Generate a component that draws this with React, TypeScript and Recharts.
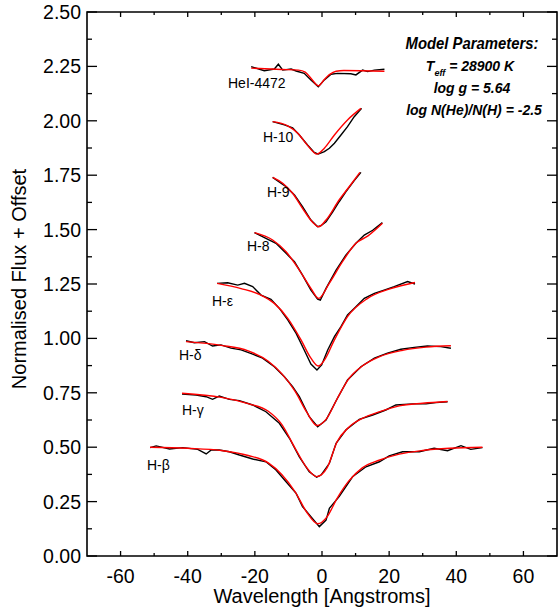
import { LineChart, Line, XAxis, YAxis, ReferenceArea } from 'recharts';

// plot box in page pixels (chart sits at 0,0 of the page)
const PLOT_LEFT = 87;
const PLOT_RIGHT = 557;
const PLOT_TOP = 12;
const PLOT_BOTTOM = 556;
const FONT = 'Liberation Sans, Arial, Helvetica, sans-serif';

const X_TICKS = [-60, -50, -40, -30, -20, -10, 0, 10, 20, 30, 40, 50, 60];
const Y_TICKS = [0, 0.125, 0.25, 0.375, 0.5, 0.625, 0.75, 0.875, 1, 1.125, 1.25, 1.375, 1.5, 1.625, 1.75, 1.875, 2, 2.125, 2.25, 2.375, 2.5];

// HeI 4472
const heiObsX = [-21.1, -17.2, -14.2, -13.0, -11.7, -9.2, -7.7, -5.3, -3.3, -1.1, 0.7, 2.7, 4.6, 8.6, 10.1, 12.1, 13.6, 15.6, 18.6];
const heiObsY = [2.249, 2.23, 2.238, 2.26, 2.233, 2.238, 2.229, 2.218, 2.188, 2.157, 2.188, 2.214, 2.218, 2.216, 2.211, 2.233, 2.226, 2.233, 2.237];
const heiModX = [-21.1, -12, -7, -5, -3.3, -1.1, 0.7, 2.2, 4.2, 6.5, 18.6];
const heiModY = [2.242, 2.236, 2.233, 2.224, 2.196, 2.161, 2.19, 2.212, 2.228, 2.231, 2.228];

// H-10
const h10ObsX = [-14.7, -11.2, -8.75, -6.75, -4.3, -2.3, -1.1, 0.7, 2.2, 3.7, 5.65, 7.6, 9.6, 11.8];
const h10ObsY = [1.996, 1.981, 1.968, 1.935, 1.889, 1.855, 1.847, 1.858, 1.874, 1.897, 1.935, 1.973, 2.019, 2.057];
const h10ModX = [-14.7, -10.2, -7.2, -4.3, -1.5, 0.7, 3.7, 7.6, 11.6];
const h10ModY = [1.996, 1.977, 1.943, 1.887, 1.847, 1.874, 1.935, 2.004, 2.057];

// H-9
const h9ObsX = [-14.7, -10.7, -8.2, -5.8, -3.3, -1.3, -0.3, 1.2, 3.2, 5.1, 7.1, 9.6, 11.6];
const h9ObsY = [1.74, 1.697, 1.659, 1.605, 1.544, 1.513, 1.518, 1.536, 1.582, 1.628, 1.674, 1.725, 1.763];
const h9ModX = [-14.7, -11.7, -8.75, -5.8, -2.8, -1.0, 1.2, 5.1, 8.1, 11.3];
const h9ModY = [1.74, 1.713, 1.667, 1.598, 1.534, 1.513, 1.544, 1.636, 1.697, 1.763];

// H-8
const h8ObsX = [-20.1, -16.7, -13.7, -10.7, -8.2, -5.8, -3.3, -1.3, -0.5, 1.2, 4.2, 7.1, 10.1, 12.6, 15.1, 18.0];
const h8ObsY = [1.486, 1.46, 1.437, 1.391, 1.352, 1.291, 1.222, 1.18, 1.176, 1.23, 1.314, 1.383, 1.437, 1.475, 1.497, 1.532];
const h8ModX = [-20.1, -14.7, -10.7, -6.75, -3.3, -1.0, 2.2, 6.2, 10.1, 13.7, 18.0];
const h8ModY = [1.486, 1.452, 1.398, 1.314, 1.23, 1.184, 1.254, 1.355, 1.437, 1.471, 1.529];

// H-epsilon
const heObsX = [-31.25, -28.1, -25.1, -23.1, -20.65, -18.15, -15.2, -12.7, -10.2, -7.7, -5.3, -3.3, -1.5, -0.1, 1.7, 3.7, 5.65, 7.6, 10.1, 12.6, 15.6, 18.5, 21.5, 25.5, 27.7];
const heObsY = [1.253, 1.256, 1.245, 1.253, 1.238, 1.199, 1.18, 1.138, 1.085, 1.023, 0.947, 0.882, 0.855, 0.878, 0.947, 1.008, 1.054, 1.108, 1.146, 1.184, 1.207, 1.222, 1.238, 1.261, 1.25];
const heModX = [-31.25, -24.1, -18.15, -14.2, -10.2, -6.25, -3.3, -1.1, 0.7, 3.7, 7.6, 13.6, 20.5, 27.7];
const heModY = [1.253, 1.229, 1.199, 1.161, 1.092, 0.993, 0.909, 0.873, 0.9, 0.993, 1.1, 1.184, 1.229, 1.257];

// H-delta
const hdObsX = [-40.5, -38.0, -35.0, -32.6, -30.1, -27.1, -24.1, -20.65, -17.7, -14.2, -11.2, -8.75, -6.75, -3.8, -1.3, 1.2, 4.6, 7.6, 11.6, 15.6, 19.5, 23.5, 27.5, 31.4, 35.4, 38.4];
const hdObsY = [0.989, 0.98, 0.985, 0.965, 0.97, 0.955, 0.947, 0.928, 0.909, 0.87, 0.824, 0.778, 0.732, 0.64, 0.594, 0.625, 0.725, 0.809, 0.87, 0.909, 0.932, 0.95, 0.959, 0.965, 0.962, 0.955];
const hdModX = [-40.5, -30, -22, -16, -12, -8, -4.5, -1.5, 1.2, 4.6, 8, 12, 17, 24, 31, 38.4];
const hdModY = [0.985, 0.968, 0.943, 0.895, 0.838, 0.757, 0.66, 0.6, 0.628, 0.725, 0.815, 0.873, 0.915, 0.945, 0.96, 0.966];

// H-gamma
const hgObsX = [-41.7, -37.5, -34.5, -32.6, -30.6, -27.6, -24.6, -20.65, -16.7, -12.7, -9.7, -6.75, -3.8, -1.6, -0.3, 2.2, 4.2, 7.1, 11.1, 15.1, 19.0, 22.0, 27.0, 31.0, 33.9, 37.4];
const hgObsY = [0.744, 0.74, 0.732, 0.72, 0.735, 0.72, 0.714, 0.694, 0.663, 0.61, 0.541, 0.456, 0.387, 0.362, 0.372, 0.426, 0.518, 0.579, 0.628, 0.648, 0.671, 0.694, 0.699, 0.699, 0.705, 0.709];
const hgModX = [-41.7, -30, -22, -16, -12, -8, -4.5, -1.6, 1.5, 4.5, 8, 12, 17, 23, 30, 37.4];
const hgModY = [0.748, 0.729, 0.7, 0.665, 0.605, 0.495, 0.405, 0.365, 0.405, 0.525, 0.592, 0.632, 0.662, 0.69, 0.702, 0.71];

// H-beta
const hbObsX = [-51.2, -49.4, -45.4, -41.5, -37.0, -34.5, -33.0, -30.6, -27.6, -24.6, -20.65, -16.7, -13.7, -10.7, -7.7, -5.8, -3.3, -0.8, 1.2, 2.2, 5.1, 9.1, 13.1, 17.1, 20.0, 24.0, 29.0, 33.4, 37.4, 41.4, 44.3, 47.8];
const hbObsY = [0.498, 0.506, 0.492, 0.498, 0.49, 0.469, 0.487, 0.487, 0.479, 0.464, 0.446, 0.433, 0.395, 0.341, 0.288, 0.227, 0.181, 0.135, 0.165, 0.219, 0.273, 0.364, 0.41, 0.433, 0.46, 0.479, 0.479, 0.495, 0.484, 0.507, 0.49, 0.498];
const hbModX = [-51.2, -40, -30, -22, -16, -12, -8, -4.5, -1.3, 1.5, 4.5, 8, 12, 17, 23, 30, 38, 47.8];
const hbModY = [0.5, 0.495, 0.485, 0.462, 0.428, 0.375, 0.295, 0.2, 0.148, 0.18, 0.265, 0.345, 0.405, 0.44, 0.468, 0.485, 0.495, 0.5];

const zip = (xs: number[], ys: number[]) => xs.map((x, i) => ({ x, y: ys[i] }));

const SPECTRA = [
  { name: 'HeI-4472', obs: zip(heiObsX, heiObsY), model: zip(heiModX, heiModY), lx: 228, ly: 88 },
  { name: 'H-10', obs: zip(h10ObsX, h10ObsY), model: zip(h10ModX, h10ModY), lx: 263, ly: 142 },
  { name: 'H-9', obs: zip(h9ObsX, h9ObsY), model: zip(h9ModX, h9ModY), lx: 267, ly: 197 },
  { name: 'H-8', obs: zip(h8ObsX, h8ObsY), model: zip(h8ModX, h8ModY), lx: 247, ly: 251 },
  { name: 'H-\u03b5', obs: zip(heObsX, heObsY), model: zip(heModX, heModY), lx: 212, ly: 306 },
  { name: 'H-\u03b4', obs: zip(hdObsX, hdObsY), model: zip(hdModX, hdModY), lx: 179, ly: 360 },
  { name: 'H-\u03b3', obs: zip(hgObsX, hgObsY), model: zip(hgModX, hgModY), lx: 182, ly: 415 },
  { name: 'H-\u03b2', obs: zip(hbObsX, hbObsY), model: zip(hbModX, hbModY), lx: 147, ly: 470 },
];

const renderXTick = (props: any) => {
  const { x, payload } = props;
  const v = payload.value;
  const major = v % 20 === 0;
  return (
    <g>
      <line x1={x} x2={x} y1={PLOT_BOTTOM} y2={PLOT_BOTTOM - (major ? 5 : 3)} stroke="#000" strokeWidth={1.3} />
      <line x1={x} x2={x} y1={PLOT_TOP} y2={PLOT_TOP + (major ? 5 : 3)} stroke="#000" strokeWidth={1.3} />
      {major && (
        <text x={x} y={583} textAnchor="middle" fontFamily={FONT} fontSize={19.5} fill="#000">
          {v}
        </text>
      )}
    </g>
  );
};

const renderYTick = (props: any) => {
  const { y, payload } = props;
  const v = payload.value;
  const major = Math.round(v * 1000) % 250 === 0;
  const len = major ? 10 : 5;
  return (
    <g>
      <line x1={PLOT_LEFT} x2={PLOT_LEFT + len} y1={y} y2={y} stroke="#000" strokeWidth={1.3} />
      <line x1={PLOT_RIGHT} x2={PLOT_RIGHT - len} y1={y} y2={y} stroke="#000" strokeWidth={1.3} />
      {major && (
        <text x={81} y={y + 7} textAnchor="end" fontFamily={FONT} fontSize={19.5} fill="#000">
          {v.toFixed(2)}
        </text>
      )}
    </g>
  );
};

export default function App() {
  return (
    <div style={{ position: 'absolute', left: 0, top: 0, width: 558, height: 607, overflow: 'hidden', background: '#fff' }}>
      <LineChart width={558} height={620} margin={{ top: PLOT_TOP, right: 1, bottom: 0, left: 0 }}>
        <XAxis
          dataKey="x"
          type="number"
          domain={[-70, 70]}
          ticks={X_TICKS}
          interval={0}
          allowDataOverflow
          axisLine={false}
          tickLine={false}
          tick={renderXTick}
          height={64}
        />
        <YAxis
          type="number"
          domain={[0, 2.5]}
          ticks={Y_TICKS}
          interval={0}
          allowDataOverflow
          axisLine={false}
          tickLine={false}
          tick={renderYTick}
          width={PLOT_LEFT}
        />
        <ReferenceArea x1={-70} x2={70} y1={0} y2={2.5} fill="none" stroke="#000" strokeWidth={1.6} ifOverflow="visible" />
        {SPECTRA.map((s) => (
          <Line
            key={s.name + '-obs'}
            data={s.obs}
            dataKey="y"
            type="linear"
            stroke="#000"
            strokeWidth={1.4}
            dot={false}
            activeDot={false}
            isAnimationActive={false}
          />
        ))}
        {SPECTRA.map((s) => (
          <Line
            key={s.name + '-model'}
            data={s.model}
            dataKey="y"
            type="monotone"
            stroke="#ff0000"
            strokeWidth={1.4}
            dot={false}
            activeDot={false}
            isAnimationActive={false}
          />
        ))}
      </LineChart>
      <svg width={558} height={607} style={{ position: 'absolute', left: 0, top: 0, pointerEvents: 'none' }}>
        <g fontFamily={FONT} fill="#000">
          {SPECTRA.map((s) => (
            <text key={s.name} x={s.lx} y={s.ly} fontSize={14}>
              {s.name}
            </text>
          ))}
          <text x={322} y={603} textAnchor="middle" fontSize={20}>
            Wavelength [Angstroms]
          </text>
          <text transform="translate(26,279) rotate(-90)" textAnchor="middle" fontSize={20}>
            Normalised Flux + Offset
          </text>
          <g fontWeight="bold" fontStyle="italic">
            <text x={472} y={49} textAnchor="middle" fontSize={17} textLength={133} lengthAdjust="spacingAndGlyphs">
              Model Parameters:
            </text>
            <text x={470} y={71} textAnchor="middle" fontSize={14}>
              T<tspan fontSize={9} dy={5}>eff</tspan>
              <tspan dy={-5}> = 28900 K</tspan>
            </text>
            <text x={472} y={93} textAnchor="middle" fontSize={14}>
              log g  = 5.64
            </text>
            <text x={474} y={115} textAnchor="middle" fontSize={14}>
              log N(He)/N(H) = -2.5
            </text>
          </g>
        </g>
      </svg>
    </div>
  );
}
